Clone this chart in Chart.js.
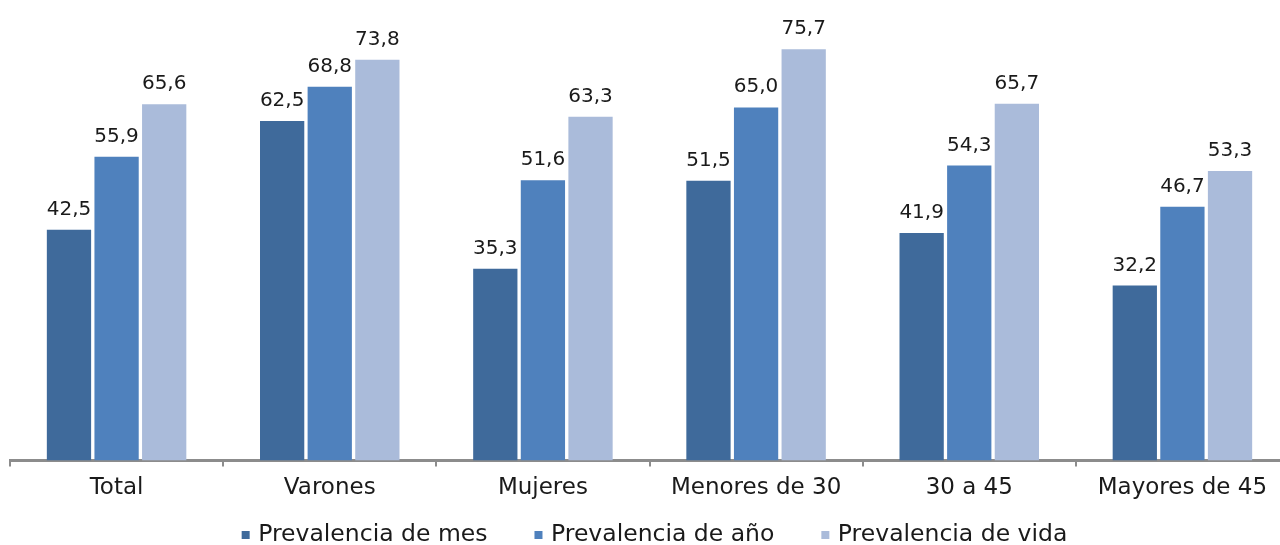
<!DOCTYPE html>
<html lang="es">
<head>
<meta charset="utf-8">
<title>Prevalencia por grupo</title>
<script src="https://cdn.jsdelivr.net/npm/chart.js@4/dist/chart.umd.min.js"></script>
<style>
  html, body { margin: 0; padding: 0; background: #fff; overflow: hidden; }
  #wrap { width: 1289px; height: 545px; }
</style>
</head>
<body>
<div id="wrap"><canvas id="grafico"></canvas></div>
<script>
// Datos
const categorias = ['Total', 'Varones', 'Mujeres', 'Menores de 30', '30 a 45', 'Mayores de 45'];
const prevalenciaMes = [42.5, 62.5, 35.3, 51.5, 41.9, 32.2];
const prevalenciaAnio = [55.9, 68.8, 51.6, 65.0, 54.3, 46.7];
const prevalenciaVida = [65.6, 73.8, 63.3, 75.7, 65.7, 53.3];

const colorMes = '#3F6A9B';
const colorAnio = '#4F81BD';
const colorVida = '#AABBDA';
const colorTexto = '#1a1a1a';
const fuente = "'DejaVu Sans', sans-serif";

// Etiquetas de valor encima de cada barra (formato con coma decimal)
const etiquetasValor = {
    id: 'etiquetasValor',
    afterDatasetsDraw(chart) {
        const ctx = chart.ctx;
        ctx.save();
        ctx.font = '20px ' + fuente;
        ctx.fillStyle = colorTexto;
        ctx.textAlign = 'center';
        ctx.textBaseline = 'alphabetic';
        chart.data.datasets.forEach((ds, i) => {
            const meta = chart.getDatasetMeta(i);
            meta.data.forEach((barra, j) => {
                const texto = ds.data[j].toFixed(1).replace('.', ',');
                ctx.fillText(texto, barra.x, barra.y - 15);
            });
        });
        ctx.restore();
    }
};

// Leyenda propia: cuadrados pequeños y más separación entre elementos
const leyenda = {
    id: 'leyenda',
    afterDraw(chart) {
        const ctx = chart.ctx;
        const caja = 8, hueco = 8.5, separacion = 47;
        const yCentro = chart.height - 10.5;
        ctx.save();
        ctx.font = '23.5px ' + fuente;
        ctx.textBaseline = 'middle';
        ctx.textAlign = 'left';
        const items = chart.data.datasets.map(ds => ({
            texto: ds.label,
            color: ds.backgroundColor,
            ancho: ctx.measureText(ds.label).width
        }));
        const total = items.reduce((s, it) => s + caja + hueco + it.ancho, 0) + separacion * (items.length - 1);
        let x = 654.5 - total / 2;
        items.forEach(it => {
            ctx.fillStyle = it.color;
            ctx.fillRect(x, yCentro - caja / 2 + 0.5, caja, caja);
            ctx.fillStyle = colorTexto;
            ctx.fillText(it.texto, x + caja + hueco, yCentro);
            x += caja + hueco + it.ancho + separacion;
        });
        ctx.restore();
    }
};

const ctx = document.getElementById('grafico').getContext('2d');
new Chart(ctx, {
    type: 'bar',
    data: {
        labels: categorias,
        datasets: [
            { label: 'Prevalencia de mes', data: prevalenciaMes, backgroundColor: colorMes },
            { label: 'Prevalencia de año', data: prevalenciaAnio, backgroundColor: colorAnio },
            { label: 'Prevalencia de vida', data: prevalenciaVida, backgroundColor: colorVida }
        ]
    },
    options: {
        responsive: true,
        maintainAspectRatio: false,
        animation: false,
        datasets: {
            bar: { categoryPercentage: 0.67, barPercentage: 0.93 }
        },
        layout: { padding: { top: 26, left: 10, right: 0, bottom: 35 } },
        scales: {
            y: { display: false, min: 0, max: 80 },
            x: {
                grid: {
                    display: true,
                    drawOnChartArea: false,
                    drawTicks: true,
                    tickLength: 6,
                    color: '#8c8c8c',
                    lineWidth: 2
                },
                border: { display: true, color: '#8c8c8c', width: 3 },
                ticks: {
                    color: colorTexto,
                    font: { family: fuente, size: 23 },
                    padding: 8,
                    maxRotation: 0
                }
            }
        },
        plugins: {
            legend: { display: false },
            tooltip: { enabled: false }
        }
    },
    plugins: [etiquetasValor, leyenda]
});
</script>
</body>
</html>
